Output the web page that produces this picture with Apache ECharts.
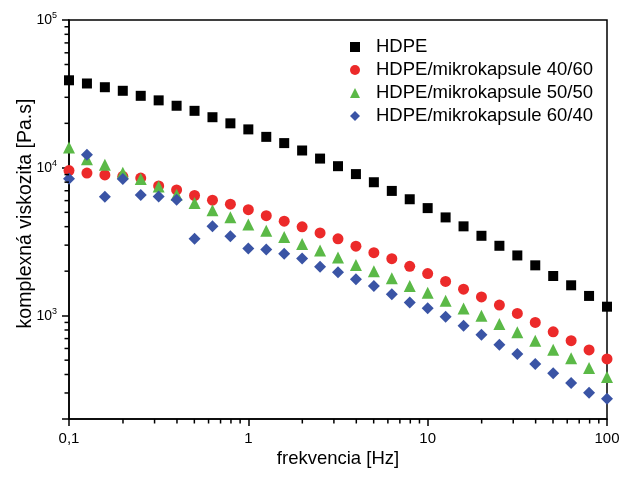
<!DOCTYPE html>
<html><head><meta charset="utf-8">
<script src="https://cdn.jsdelivr.net/npm/echarts@6/dist/echarts.min.js"></script>
<style>html,body{margin:0;padding:0;background:#fff}#c{width:619px;height:477px}</style>
</head><body><div id="c"></div>
<script>
const frequencies = [0.1, 0.1259, 0.1585, 0.1995, 0.2512, 0.3162, 0.3981, 0.5012, 0.631, 0.7943,
  1, 1.259, 1.585, 1.995, 2.512, 3.162, 3.981, 5.012, 6.31, 7.943,
  10, 12.59, 15.85, 19.95, 25.12, 31.62, 39.81, 50.12, 63.1, 79.43, 100];
const hdpe = [39100, 37200, 35100, 33200, 30700, 28600, 26300, 24300, 22000, 20000,
  18200, 16200, 14700, 13100, 11550, 10260, 9070, 7990, 6980, 6130,
  5340, 4620, 4020, 3470, 2970, 2555, 2190, 1855, 1605, 1360, 1150];
const mix4060 = [9590, 9210, 8950, 8760, 8520, 7540, 7090, 6500, 6040, 5680,
  5215, 4750, 4360, 3990, 3630, 3310, 2950, 2665, 2430, 2155,
  1925, 1705, 1510, 1340, 1180, 1035, 900, 778, 677, 586, 510];
const mix5050 = [13700, 11450, 10480, 9255, 8410, 7480, 6580, 5785, 5160, 4640,
  4130, 3750, 3400, 3050, 2760, 2470, 2200, 2000, 1790, 1590,
  1430, 1260, 1120, 997, 877, 771, 677, 589, 515, 443, 384];
const mix6040 = [8430, 12240, 6380, 8400, 6550, 6410, 6090, 3310, 4020, 3450,
  2850, 2800, 2620, 2440, 2145, 1970, 1760, 1590, 1395, 1227,
  1123, 982, 854, 742, 636, 551, 471, 408, 351, 301, 274];
const seriesNames = ['HDPE', 'HDPE/mikrokapsule 40/60', 'HDPE/mikrokapsule 50/50', 'HDPE/mikrokapsule 60/40'];
const xMajorTicks = [0.1, 1, 10, 100];
const xMinorTicks = [0.2,0.3,0.4,0.5,0.6,0.7,0.8,0.9, 2,3,4,5,6,7,8,9, 20,30,40,50,60,70,80,90];
const yMajorTicks = [1000, 10000, 100000];
const yMinorTicks = [300,400,500,600,700,800,900, 2000,3000,4000,5000,6000,7000,8000,9000,
  20000,30000,40000,50000,60000,70000,80000,90000];
const xRange = [0.1, 100];
const yRange = [200, 100000];
const xTitle = 'frekvencia [Hz]';
const yTitle = 'komplexná viskozita [Pa.s]';

const FONT = '"Liberation Sans", Arial, sans-serif';
const MINOR_LEN = 4.5;
const pairs = vals => frequencies.map((f, i) => [f, vals[i]]);
const styles = [
  {symbol: 'rect', size: 10, color: '#000000'},
  {symbol: 'circle', size: 11, color: '#ec2a2a'},
  {symbol: 'triangle', size: 12, color: '#5bb947'},
  {symbol: 'diamond', size: 12, color: '#3a54a5'}
];
const allVals = [hdpe, mix4060, mix5050, mix6040];

const chart = echarts.init(document.getElementById('c'), null, {renderer: 'canvas'});
const lineStyle = {color: '#000', width: 1.5};

// minor ticks of the log axes, placed through the axes' own scales
const minorTickSeries = (name, data, dir) => ({
  type: 'custom', name: name, silent: true, clip: false, z: 10,
  data: data,
  renderItem: (params, api) => {
    const p = api.coord([api.value(0), api.value(1)]);
    const x2 = dir === 'x' ? p[0] : p[0] - MINOR_LEN;
    const y2 = dir === 'x' ? p[1] + MINOR_LEN : p[1];
    return {type: 'line', shape: {x1: p[0], y1: p[1], x2: x2, y2: y2},
      style: {stroke: '#000', lineWidth: 1.5}};
  }
});

chart.setOption({
  animation: false,
  backgroundColor: '#fff',
  textStyle: {fontFamily: FONT},
  grid: {left: 69, right: 12, top: 20, bottom: 58, show: true, borderColor: '#000', borderWidth: 1.5,
    backgroundColor: 'transparent', outerBoundsMode: 'none'},
  legend: {
    data: seriesNames, orient: 'vertical', left: 345, top: 32,
    itemWidth: 10, itemHeight: 10, itemGap: 3,
    textStyle: {fontSize: 18.5, fontFamily: FONT, color: '#000', lineHeight: 20, padding: [0, 0, 0, 11]}
  },
  xAxis: {
    type: 'log', min: xRange[0], max: xRange[1], position: 'bottom',
    name: xTitle, nameLocation: 'middle', nameGap: 30, nameMoveOverlap: false,
    nameTextStyle: {fontSize: 18.5, fontFamily: FONT, color: '#000'},
    axisLine: {onZero: false, lineStyle: lineStyle},
    axisTick: {show: true, inside: false, length: 7, lineStyle: {color: '#000', width: 1.5}},
    axisLabel: {fontSize: 15, fontFamily: FONT, color: '#000', margin: 12, customValues: xMajorTicks,
      formatter: v => String(v).replace('.', ',')},
    splitLine: {show: false}
  },
  yAxis: {
    type: 'log', min: yRange[0], max: yRange[1], position: 'left',
    name: yTitle, nameLocation: 'middle', nameGap: 33, nameMoveOverlap: false,
    nameTextStyle: {fontSize: 19.5, fontFamily: FONT, color: '#000', padding: [0, 0, 0, 12]},
    axisLine: {onZero: false, lineStyle: lineStyle},
    axisTick: {show: true, inside: false, length: 7, lineStyle: {color: '#000', width: 1.5}},
    axisLabel: {fontSize: 14, fontFamily: FONT, color: '#000', margin: 12, customValues: yMajorTicks,
      formatter: v => '{b|10}{sup|' + Math.round(Math.log10(v)) + '}',
      rich: {
        b: {fontSize: 14, fontFamily: FONT, color: '#000', padding: [2, 0, 2, 0], verticalAlign: 'middle'},
        sup: {fontSize: 9, fontFamily: FONT, color: '#000', verticalAlign: 'top'}
      }},
    splitLine: {show: false}
  },
  series: allVals.map((vals, i) => ({
    name: seriesNames[i], type: 'scatter',
    symbol: styles[i].symbol, symbolSize: styles[i].size,
    itemStyle: {color: styles[i].color, opacity: 1},
    data: pairs(vals)
  })).concat([
    minorTickSeries('xMinorTicks', xMinorTicks.map(v => [v, yRange[0]]), 'x'),
    minorTickSeries('yMinorTicks', yMinorTicks.map(v => [xRange[0], v]), 'y')
  ])
});
</script></body></html>
